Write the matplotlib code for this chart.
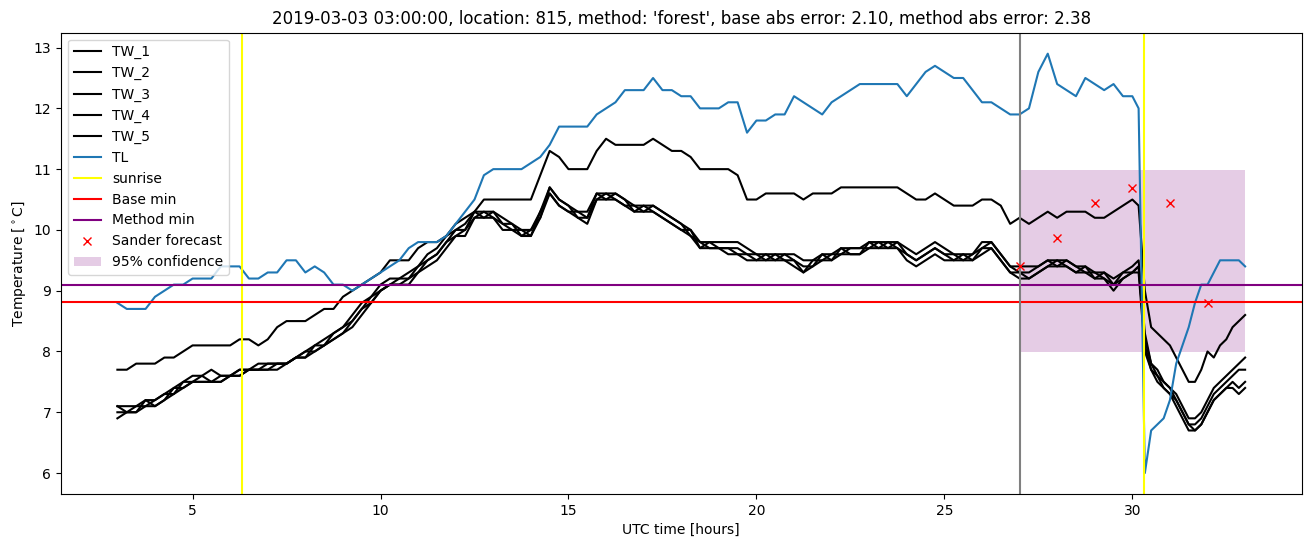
import numpy as np
import matplotlib
matplotlib.use("Agg")
import matplotlib.pyplot as plt

# time axis [hours UTC]: 15-min steps until 29.75, then 10-min steps to 33
hours = np.concatenate([np.arange(3.0, 30.0, 0.25), np.arange(30.0, 33.001, 1 / 6)])

TL = [
    8.8, 8.7, 8.7, 8.7, 8.9, 9.0, 9.1, 9.1, 9.2, 9.2, 9.2, 9.4,
    9.4, 9.4, 9.2, 9.2, 9.3, 9.3, 9.5, 9.5, 9.3, 9.4, 9.3, 9.1,
    9.1, 9.0, 9.1, 9.2, 9.3, 9.4, 9.5, 9.7, 9.8, 9.8, 9.8, 9.9,
    10.1, 10.3, 10.5, 10.9, 11.0, 11.0, 11.0, 11.0, 11.1, 11.2, 11.4, 11.7,
    11.7, 11.7, 11.7, 11.9, 12.0, 12.1, 12.3, 12.3, 12.3, 12.5, 12.3, 12.3,
    12.2, 12.2, 12.0, 12.0, 12.0, 12.1, 12.1, 11.6, 11.8, 11.8, 11.9, 11.9,
    12.2, 12.1, 12.0, 11.9, 12.1, 12.2, 12.3, 12.4, 12.4, 12.4, 12.4, 12.4,
    12.2, 12.4, 12.6, 12.7, 12.6, 12.5, 12.5, 12.3, 12.1, 12.1, 12.0, 11.9,
    11.9, 12.0, 12.6, 12.9, 12.4, 12.3, 12.2, 12.5, 12.4, 12.3, 12.4, 12.2,
    12.2, 12.0, 6.0, 6.7, 6.8, 6.9, 7.2, 7.8, 8.1, 8.4, 8.8, 9.1, 9.1, 9.3,
    9.5, 9.5, 9.5, 9.5, 9.4,
]

TW_1 = [
    7.7, 7.7, 7.8, 7.8, 7.8, 7.9, 7.9, 8.0, 8.1, 8.1, 8.1, 8.1,
    8.1, 8.2, 8.2, 8.1, 8.2, 8.4, 8.5, 8.5, 8.5, 8.6, 8.7, 8.7,
    8.9, 9.0, 9.1, 9.2, 9.3, 9.5, 9.5, 9.5, 9.7, 9.8, 9.8, 9.9,
    10.1, 10.2, 10.3, 10.5, 10.5, 10.5, 10.5, 10.5, 10.5, 10.9, 11.3, 11.2,
    11.0, 11.0, 11.0, 11.3, 11.5, 11.4, 11.4, 11.4, 11.4, 11.5, 11.4, 11.3,
    11.3, 11.2, 11.0, 11.0, 11.0, 11.0, 10.9, 10.5, 10.5, 10.6, 10.6, 10.6,
    10.6, 10.5, 10.6, 10.6, 10.6, 10.7, 10.7, 10.7, 10.7, 10.7, 10.7, 10.7,
    10.6, 10.5, 10.5, 10.6, 10.5, 10.4, 10.4, 10.4, 10.5, 10.5, 10.4, 10.1,
    10.2, 10.1, 10.2, 10.3, 10.2, 10.3, 10.3, 10.3, 10.2, 10.2, 10.3, 10.4,
    10.5, 10.4, 9.0, 8.4, 8.3, 8.2, 8.1, 7.9, 7.7, 7.5, 7.5, 7.7, 8.0, 7.9,
    8.1, 8.2, 8.4, 8.5, 8.6,
]

TW_2 = [
    7.1, 7.1, 7.1, 7.2, 7.2, 7.3, 7.4, 7.5, 7.6, 7.6, 7.7, 7.6,
    7.6, 7.7, 7.7, 7.8, 7.8, 7.8, 7.8, 7.9, 8.0, 8.1, 8.2, 8.3,
    8.4, 8.6, 8.8, 8.9, 9.1, 9.2, 9.2, 9.3, 9.4, 9.6, 9.7, 9.9,
    10.0, 10.1, 10.3, 10.3, 10.3, 10.2, 10.1, 10.0, 10.0, 10.3, 10.7, 10.5,
    10.4, 10.3, 10.3, 10.6, 10.6, 10.6, 10.5, 10.4, 10.4, 10.4, 10.3, 10.2,
    10.1, 10.0, 9.8, 9.8, 9.8, 9.8, 9.8, 9.7, 9.6, 9.6, 9.6, 9.6,
    9.6, 9.5, 9.5, 9.6, 9.6, 9.7, 9.7, 9.7, 9.8, 9.8, 9.8, 9.8,
    9.7, 9.6, 9.7, 9.8, 9.7, 9.6, 9.6, 9.6, 9.8, 9.8, 9.6, 9.4,
    9.4, 9.4, 9.4, 9.5, 9.5, 9.5, 9.4, 9.4, 9.3, 9.3, 9.2, 9.3,
    9.4, 9.5, 8.3, 7.8, 7.7, 7.5, 7.4, 7.3, 7.1, 6.9, 6.9, 7.0, 7.2, 7.4,
    7.5, 7.6, 7.7, 7.8, 7.9,
]

TW_3 = [
    7.1, 7.0, 7.1, 7.1, 7.2, 7.3, 7.3, 7.5, 7.5, 7.6, 7.5, 7.6,
    7.6, 7.6, 7.7, 7.7, 7.8, 7.8, 7.8, 7.9, 8.0, 8.0, 8.1, 8.3,
    8.4, 8.5, 8.7, 8.9, 9.0, 9.1, 9.2, 9.2, 9.4, 9.5, 9.6, 9.8,
    10.0, 10.0, 10.2, 10.3, 10.2, 10.1, 10.0, 10.0, 9.9, 10.3, 10.6, 10.4,
    10.3, 10.3, 10.2, 10.5, 10.6, 10.5, 10.4, 10.4, 10.3, 10.4, 10.3, 10.2,
    10.1, 9.9, 9.8, 9.7, 9.7, 9.7, 9.7, 9.6, 9.6, 9.5, 9.6, 9.5,
    9.5, 9.3, 9.5, 9.5, 9.6, 9.6, 9.7, 9.7, 9.7, 9.8, 9.7, 9.8,
    9.6, 9.5, 9.6, 9.7, 9.6, 9.6, 9.5, 9.6, 9.7, 9.8, 9.6, 9.4,
    9.3, 9.3, 9.4, 9.5, 9.4, 9.5, 9.4, 9.3, 9.3, 9.2, 9.1, 9.3,
    9.3, 9.4, 8.2, 7.8, 7.6, 7.5, 7.4, 7.2, 7.0, 6.8, 6.8, 6.9, 7.1, 7.3,
    7.4, 7.5, 7.6, 7.7, 7.7,
]

TW_4 = [
    6.9, 7.0, 7.0, 7.2, 7.1, 7.2, 7.4, 7.4, 7.5, 7.5, 7.5, 7.5,
    7.6, 7.7, 7.7, 7.7, 7.7, 7.8, 7.8, 7.9, 7.9, 8.1, 8.1, 8.2,
    8.3, 8.5, 8.7, 8.8, 9.0, 9.1, 9.1, 9.2, 9.3, 9.5, 9.6, 9.8,
    9.9, 10.0, 10.3, 10.2, 10.3, 10.1, 10.1, 9.9, 10.0, 10.2, 10.7, 10.5,
    10.4, 10.2, 10.2, 10.6, 10.5, 10.6, 10.5, 10.3, 10.4, 10.3, 10.2, 10.1,
    10.0, 10.0, 9.7, 9.8, 9.7, 9.7, 9.6, 9.6, 9.5, 9.6, 9.5, 9.6,
    9.5, 9.4, 9.4, 9.6, 9.5, 9.7, 9.6, 9.6, 9.8, 9.7, 9.8, 9.7,
    9.6, 9.5, 9.6, 9.7, 9.6, 9.5, 9.6, 9.5, 9.7, 9.7, 9.5, 9.3,
    9.3, 9.2, 9.3, 9.4, 9.5, 9.4, 9.3, 9.4, 9.2, 9.3, 9.1, 9.2,
    9.3, 9.4, 8.1, 7.7, 7.6, 7.4, 7.3, 7.2, 7.0, 6.8, 6.7, 6.8, 7.0, 7.2,
    7.3, 7.4, 7.5, 7.4, 7.5,
]

TW_5 = [
    7.0, 7.0, 7.0, 7.1, 7.1, 7.2, 7.3, 7.4, 7.5, 7.5, 7.5, 7.5,
    7.6, 7.6, 7.7, 7.7, 7.7, 7.7, 7.8, 7.9, 7.9, 8.0, 8.1, 8.2,
    8.3, 8.4, 8.6, 8.8, 9.0, 9.1, 9.1, 9.1, 9.3, 9.4, 9.5, 9.7,
    9.9, 9.9, 10.2, 10.2, 10.2, 10.0, 10.0, 9.9, 9.9, 10.2, 10.6, 10.4,
    10.3, 10.2, 10.1, 10.5, 10.5, 10.5, 10.4, 10.3, 10.3, 10.3, 10.2, 10.1,
    10.0, 9.9, 9.7, 9.7, 9.7, 9.6, 9.6, 9.5, 9.5, 9.5, 9.5, 9.5,
    9.4, 9.3, 9.4, 9.5, 9.5, 9.6, 9.6, 9.6, 9.7, 9.7, 9.7, 9.7,
    9.5, 9.4, 9.5, 9.6, 9.5, 9.5, 9.5, 9.5, 9.6, 9.7, 9.5, 9.3,
    9.2, 9.2, 9.3, 9.4, 9.4, 9.4, 9.3, 9.3, 9.2, 9.2, 9.0, 9.2,
    9.3, 9.3, 8.0, 7.7, 7.5, 7.4, 7.3, 7.1, 6.9, 6.7, 6.7, 6.8, 7.0, 7.2,
    7.3, 7.4, 7.4, 7.3, 7.4,
]

sunrise_hours = [6.32, 30.31]
forecast_start = 27.0
base_min = 8.82
method_min = 9.10
sander_hours = [27, 28, 29, 30, 31, 32]
sander_values = [9.41, 9.86, 10.45, 10.69, 10.45, 8.80]
conf_low, conf_high = 7.99, 10.98
conf_start, conf_end = 27.0, 33.0

title = ("2019-03-03 03:00:00, location: 815, method: 'forest', "
         "base abs error: 2.10, method abs error: 2.38")

fig = plt.figure(figsize=(13.11, 5.47), dpi=100)
ax = fig.add_axes([61 / 1311, 1 - 494 / 547, (1301.5 - 61) / 1311, (494 - 32.7) / 547])

for name, series in [("TW_1", TW_1), ("TW_2", TW_2), ("TW_3", TW_3),
                     ("TW_4", TW_4), ("TW_5", TW_5)]:
    ax.plot(hours, series, color="black", label=name)
ax.plot(hours, TL, color="C0", label="TL")
ax.axvline(sunrise_hours[0], color="yellow", label="sunrise")
ax.axvline(sunrise_hours[1], color="yellow")
ax.axhline(base_min, color="red", label="Base min")
ax.axhline(method_min, color="purple", label="Method min")
ax.axvline(forecast_start, color="gray")
ax.plot(sander_hours, sander_values, "x", color="red", label="Sander forecast")
ax.fill_between([conf_start, conf_end], [conf_low, conf_low], [conf_high, conf_high],
                color="purple", alpha=0.2, linewidth=0, label="95% confidence")

ax.set_xlim(1.5, 34.5)
ax.set_ylim(5.655, 13.245)
ax.set_xlabel("UTC time [hours]")
ax.set_ylabel(r"Temperature [$^\circ$C]")
ax.set_title(title)
ax.legend(loc="upper left")

fig.savefig("out.png", dpi=100)
